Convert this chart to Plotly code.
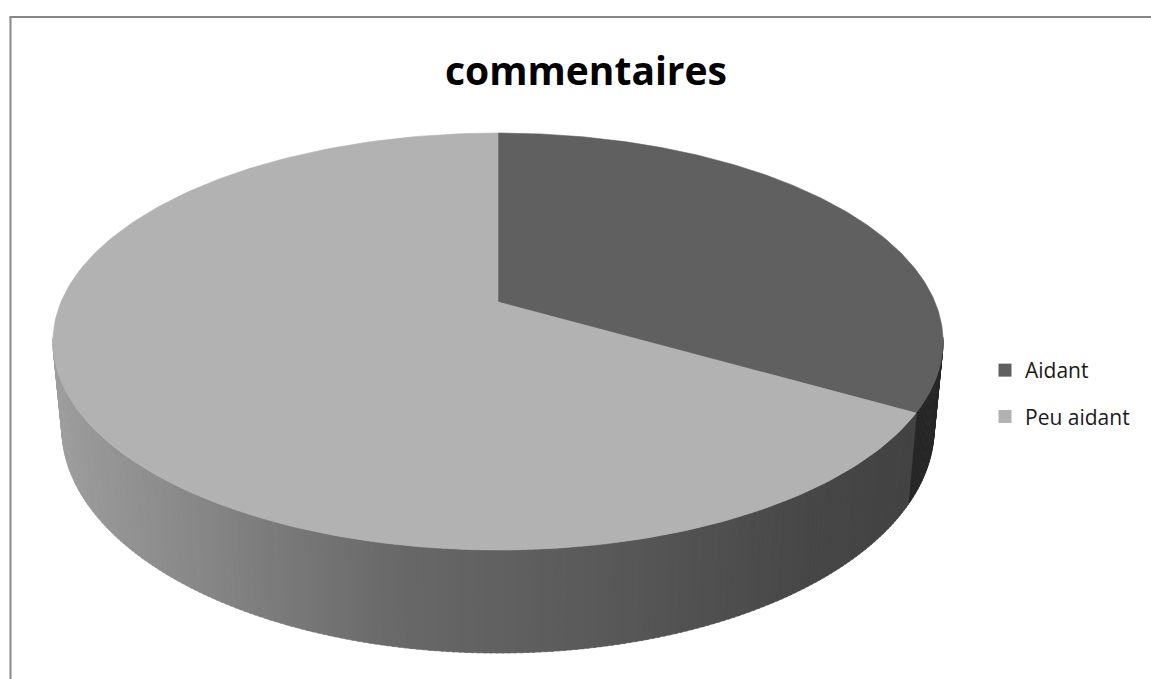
import numpy as np
import plotly.graph_objects as go

# ---- data ----
categories = ["Aidant", "Peu aidant"]
values = [1, 2]
top_colors = ["#606060", "#b2b2b2"]
wall_colors = ["#262626", None]  # None -> shaded gradient

# ---- styling / projection parameters (pixels) ----
W, H = 1151, 679
X0, Y0 = 498.0, 302.0      # projected pie centre
SX, SY = 437.0, 201.0      # radii scales
A = 0.1895                 # perspective strength
D0 = 83.5                  # thickness
KB = 0.98                  # bottom rim shrink

def proj_top(theta):
    u, v = np.sin(theta), -np.cos(theta)
    w = 1 - A * v
    return X0 + SX * u / w, Y0 + SY * v / w

def proj_bot(theta):
    u, v = np.sin(theta), -np.cos(theta)
    w = 1 - A * v
    return X0 + SX * KB * u / w, Y0 + (SY * v + D0) / w

# gradient of the front wall (screen x -> grey level)
grad_x = [40, 280, 400, 630, 810, 940]
grad_g = [160, 122, 104, 87, 71, 66]

def grey(x):
    g = int(round(np.interp(x, grad_x, grad_g)))
    return f"rgb({g},{g},{g})"

fig = go.Figure()

total = float(sum(values))
bounds = np.concatenate([[0.0], np.cumsum(values) / total * 2 * np.pi])

# ---- side walls (painted first) ----
t_sil_lo = np.arccos(-A)              # right silhouette
t_sil_hi = 2 * np.pi - np.arccos(-A)  # left silhouette
n = 240
ts = np.linspace(t_sil_lo - 0.02, t_sil_hi + 0.02, n + 1)
for i in range(n):
    t1, t2 = ts[i], min(ts[i + 1] + 0.004, ts[-1])
    tm = 0.5 * (t1 + t2)
    k = int(np.searchsorted(bounds, tm, side="right") - 1)
    k = max(0, min(k, len(values) - 1))
    xa, ya = proj_top(np.array([t1, t2]))
    xb, yb = proj_bot(np.array([t2, t1]))
    px = list(xa) + list(xb) + [xa[0]]
    py = list(ya) + list(yb) + [ya[0]]
    col = wall_colors[k] if wall_colors[k] else grey(np.mean(px))
    fig.add_trace(go.Scatter(x=px, y=py, mode="lines", fill="toself",
                             fillcolor=col, line=dict(color=col, width=0.6),
                             hoverinfo="skip", showlegend=False))

# ---- top faces ----
for k in range(len(values)):
    th = np.linspace(bounds[k], bounds[k + 1], 200)
    x, y = proj_top(th)
    px = [X0] + list(x) + [X0]
    py = [Y0] + list(y) + [Y0]
    fig.add_trace(go.Scatter(x=px, y=py, mode="lines", fill="toself",
                             fillcolor=top_colors[k],
                             line=dict(color=top_colors[k], width=0.6),
                             hoverinfo="skip", showlegend=False))

# ---- legend entries ----
for k, name in enumerate(categories):
    fig.add_trace(go.Scatter(x=[None], y=[None], mode="markers", name=name,
                             legendgroup=name,
                             marker=dict(symbol="square", size=13,
                                         color=top_colors[k])))

border = dict(color="#878787", width=2)
fig.update_layout(
    width=W, height=H,
    margin=dict(l=0, r=0, t=0, b=0),
    paper_bgcolor="white", plot_bgcolor="white",
    xaxis=dict(range=[0, W], visible=False, fixedrange=True),
    yaxis=dict(range=[H, 0], visible=False, fixedrange=True),
    title=dict(text="commentaires", x=586 / W, xanchor="center",
               y=1 - 71 / H, yanchor="middle",
               font=dict(family="Open Sans", size=39, color="black",
                         weight="bold")),
    legend=dict(x=985 / W, xanchor="left", y=1 - 350 / H, yanchor="top",
                font=dict(family="Open Sans", size=21, color="#1a1a1a"),
                tracegroupgap=16, bgcolor="rgba(0,0,0,0)"),
    shapes=[
        dict(type="line", xref="paper", yref="paper",
             x0=10.5 / W, y0=0, x1=10.5 / W, y1=1 - 17 / H, line=border),
        dict(type="line", xref="paper", yref="paper",
             x0=9.5 / W, y0=1 - 17 / H, x1=1, y1=1 - 17 / H, line=border),
    ],
    showlegend=True,
)

fig.write_html("out.html")
